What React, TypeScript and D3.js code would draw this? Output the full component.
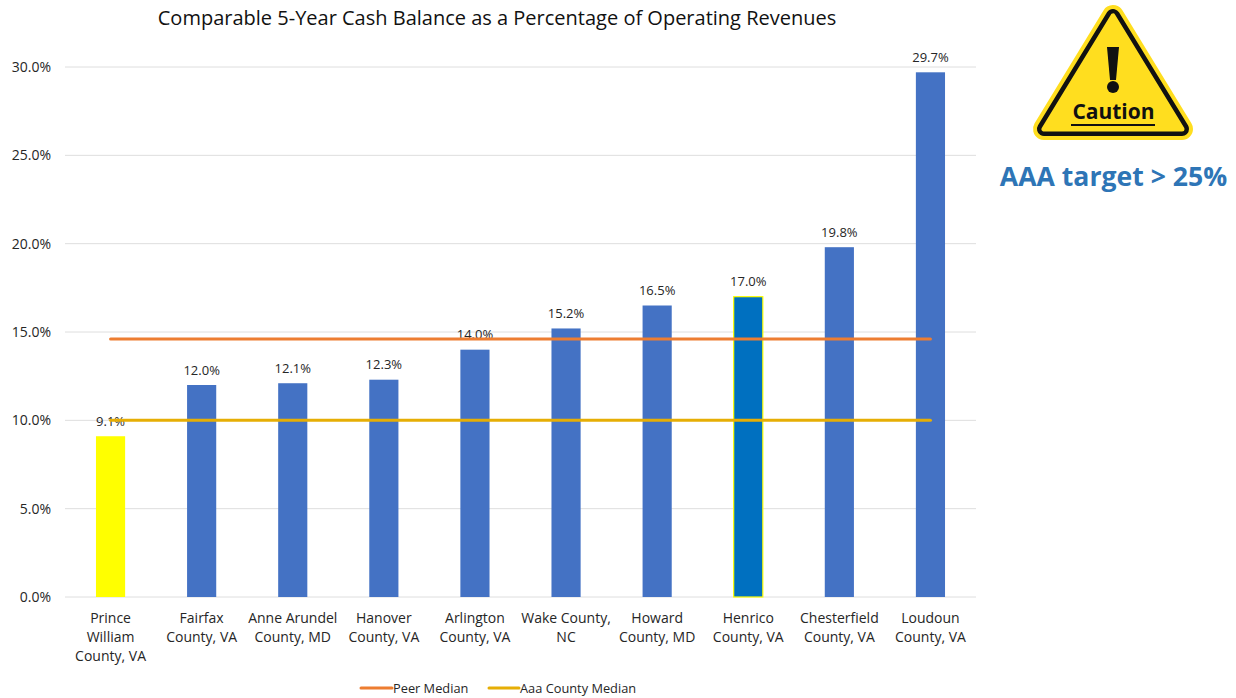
import * as d3 from "d3";

const counties = [
  ["Prince", "William", "County, VA"],
  ["Fairfax", "County, VA"],
  ["Anne Arundel", "County, MD"],
  ["Hanover", "County, VA"],
  ["Arlington", "County, VA"],
  ["Wake County,", "NC"],
  ["Howard", "County, MD"],
  ["Henrico", "County, VA"],
  ["Chesterfield", "County, VA"],
  ["Loudoun", "County, VA"],
];
const cashBalance = [9.1, 12.0, 12.1, 12.3, 14.0, 15.2, 16.5, 17.0, 19.8, 29.7];
const peerMedian = [14.6, 14.6, 14.6, 14.6, 14.6, 14.6, 14.6, 14.6, 14.6, 14.6];
const aaaMedian = [10, 10, 10, 10, 10, 10, 10, 10, 10, 10];
const yTicks = [0, 5, 10, 15, 20, 25, 30];

const width = 1236;
const height = 698;
const font = "'Open Sans', sans-serif";
const textColor = "#262626";
const barBlue = "#4472c4";
const orange = "#ed7d31";
const gold = "#e6ae05";

const xScale = d3.scaleBand<number>()
  .domain(d3.range(counties.length))
  .range([65, 976])
  .paddingInner(0.68)
  .paddingOuter(0.34);

const yScale = d3.scaleLinear().domain([0, 30]).range([597, 67]);

const xCenter = (i: number) => xScale(i)! + xScale.bandwidth() / 2;

const medianLine = d3.line<number>()
  .x((_, i) => xCenter(i))
  .y((d) => yScale(d));

const barFill = (i: number) => (i === 0 ? "#ffff00" : i === 7 ? "#0070c0" : barBlue);

function CautionSign() {
  const tri = "M1113,16 L1044,129 L1182,129 Z";
  return (
    <g>
      <path d={tri} fill="#ffde1f" stroke="#ffde1f" strokeWidth={22} strokeLinejoin="round" />
      <path d={tri} fill="#111" stroke="#111" strokeWidth={14} strokeLinejoin="round" />
      <path d={tri} fill="#ffde1f" stroke="#ffde1f" strokeWidth={5} strokeLinejoin="round" />
      <path d="M1107,47 L1119,47 L1116,80 L1110,80 Z" fill="#111" />
      <circle cx={1113} cy={87} r={6} fill="#111" />
      <text x={1113.5} y={119} textAnchor="middle" fontSize={21} fontWeight={700} fill="#111">
        Caution
      </text>
      <rect x={1071} y={124} width={84} height={2} fill="#111" />
    </g>
  );
}

export default function App() {
  return (
    <svg
      width={width}
      height={height}
      viewBox={`0 0 ${width} ${height}`}
      style={{ position: "absolute", left: 0, top: 0, fontFamily: font, background: "#fff" }}
    >
      <text x={497} y={25} textAnchor="middle" fontSize={20} fill="#111">
        Comparable 5-Year Cash Balance as a Percentage of Operating Revenues
      </text>

      {yTicks.map((t) => (
        <g key={t}>
          <line x1={65} x2={976} y1={yScale(t)} y2={yScale(t)} stroke="#dedede" strokeWidth={1} />
          <text x={51} y={yScale(t) + 5} textAnchor="end" fontSize={14} fill={textColor}>
            {t.toFixed(1)}%
          </text>
        </g>
      ))}

      {cashBalance.map((v, i) => (
        <rect
          key={i}
          x={xScale(i)}
          y={yScale(v)}
          width={xScale.bandwidth()}
          height={yScale(0) - yScale(v)}
          fill={barFill(i)}
          stroke={i === 7 ? "#ffff00" : "none"}
          strokeWidth={1.2}
        />
      ))}

      {cashBalance.map((v, i) => (
        <text key={i} x={xCenter(i)} y={yScale(v) - 10.5} textAnchor="middle" fontSize={13} fill={textColor}>
          {v.toFixed(1)}%
        </text>
      ))}

      <path d={medianLine(peerMedian)!} fill="none" stroke={orange} strokeWidth={3} strokeLinecap="round" />
      <path d={medianLine(aaaMedian)!} fill="none" stroke={gold} strokeWidth={3} strokeLinecap="round" />

      {counties.map((lines, i) => (
        <text key={i} textAnchor="middle" fontSize={14} fill={textColor}>
          {lines.map((l, j) => (
            <tspan key={j} x={xCenter(i)} y={623 + j * 19}>
              {l}
            </tspan>
          ))}
        </text>
      ))}

      <line x1={361} x2={392} y1={688} y2={688} stroke={orange} strokeWidth={3} strokeLinecap="round" />
      <text x={393} y={693} fontSize={12.8} fill={textColor}>Peer Median</text>
      <line x1={489} x2={519} y1={688} y2={688} stroke={gold} strokeWidth={3} strokeLinecap="round" />
      <text x={520} y={693} fontSize={12.8} fill={textColor}>Aaa County Median</text>

      <CautionSign />
      <text x={1113.5} y={186} textAnchor="middle" fontSize={26.6} fontWeight={700} fill="#2e75b6">
        AAA target &gt; 25%
      </text>
    </svg>
  );
}
